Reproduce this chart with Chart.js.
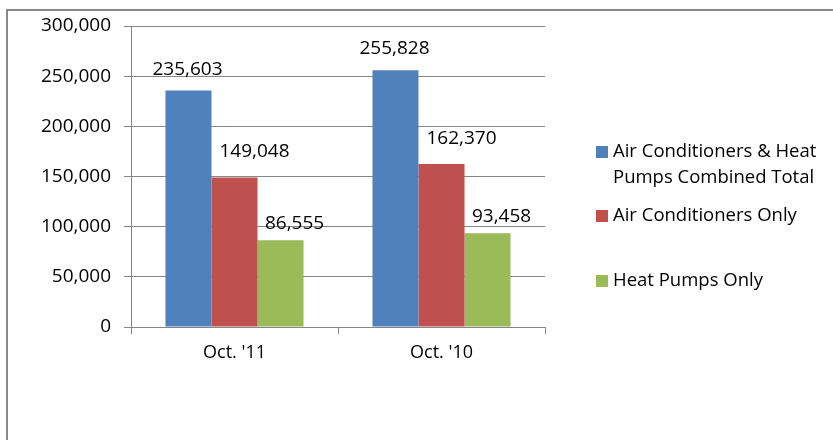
<!DOCTYPE html>
<html>
<head>
<meta charset="utf-8">
<script src="https://cdn.jsdelivr.net/npm/chart.js@4"></script>
<style>
  html, body { margin: 0; padding: 0; background: #fff; }
  #wrap { width: 833px; height: 440px; }
</style>
</head>
<body>
<div id="wrap"><canvas id="chart" width="833" height="440"></canvas></div>
<script>
const categories = ["Oct. '11", "Oct. '10"];
const seriesNames = ['Air Conditioners & Heat Pumps Combined Total', 'Air Conditioners Only', 'Heat Pumps Only'];
const legendLines = [['Air Conditioners & Heat', 'Pumps Combined Total'], ['Air Conditioners Only'], ['Heat Pumps Only']];
const combinedTotal = [235603, 255828];
const acOnly = [149048, 162370];
const heatPumpsOnly = [86555, 93458];
const colors = ['#4F81BD', '#C0504D', '#9BBB59'];

const FONT = '"Open Sans", sans-serif';
const fmt = v => v.toLocaleString('en-US');

// outer frame (only left and top edges show in the crop)
const framePlugin = {
  id: 'frame',
  beforeDraw(chart) {
    const ctx = chart.ctx;
    ctx.save();
    ctx.strokeStyle = '#888888';
    ctx.lineWidth = 2;
    ctx.beginPath();
    ctx.moveTo(7, 440);
    ctx.lineTo(7, 10);
    ctx.lineTo(833, 10);
    ctx.stroke();
    ctx.restore();
  }
};

// value above each bar (labels were nudged by hand in the original)
const labelNudge = [{ dx: -1, dy: 16 }, { dx: 20, dy: 20 }, { dx: 14, dy: 11 }];
const valueLabels = {
  id: 'valueLabels',
  afterDatasetsDraw(chart) {
    const ctx = chart.ctx;
    ctx.save();
    ctx.font = '19px ' + FONT;
    ctx.fillStyle = '#000';
    ctx.textAlign = 'center';
    ctx.textBaseline = 'alphabetic';
    chart.data.datasets.forEach((ds, i) => {
      chart.getDatasetMeta(i).data.forEach((bar, j) => {
        ctx.fillText(fmt(ds.data[j]), bar.x + labelNudge[i].dx, bar.y - labelNudge[i].dy);
      });
    });
    ctx.restore();
  }
};

// legend on the right with wrapped text
const sideLegend = {
  id: 'sideLegend',
  afterDraw(chart) {
    const ctx = chart.ctx;
    const rows = [152, 216, 281];
    ctx.save();
    ctx.font = '18.5px ' + FONT;
    ctx.textBaseline = 'middle';
    chart.data.datasets.forEach((ds, i) => {
      ctx.fillStyle = ds.backgroundColor;
      ctx.fillRect(596, rows[i] - 6, 12, 12);
      ctx.fillStyle = '#000';
      legendLines[i].forEach((line, k) => {
        ctx.fillText(line, 613, rows[i] + k * 26);
      });
    });
    ctx.restore();
  }
};

new Chart(document.getElementById('chart'), {
  type: 'bar',
  data: {
    labels: categories,
    datasets: [
      { label: seriesNames[0], data: combinedTotal, backgroundColor: colors[0] },
      { label: seriesNames[1], data: acOnly, backgroundColor: colors[1] },
      { label: seriesNames[2], data: heatPumpsOnly, backgroundColor: colors[2] }
    ]
  },
  options: {
    responsive: false,
    animation: false,
    categoryPercentage: 0.667,
    barPercentage: 1,
    layout: { padding: { top: 26, right: 288, left: 0, bottom: 0 } },
    plugins: {
      legend: { display: false },
      tooltip: { enabled: false }
    },
    scales: {
      x: {
        grid: { drawOnChartArea: false, color: '#868686', tickLength: 7, offset: true },
        border: { color: '#868686' },
        ticks: { color: '#000', font: { family: FONT, size: 18 }, padding: 8 },
        afterFit(scale) { scale.height = 113; }
      },
      y: {
        min: 0,
        max: 300000,
        grid: { color: '#868686', tickLength: 7 },
        border: { color: '#868686' },
        ticks: {
          stepSize: 50000,
          color: '#000',
          font: { family: FONT, size: 19 },
          padding: 13,
          callback: v => fmt(v)
        },
        afterFit(scale) { scale.width = 131; }
      }
    }
  },
  plugins: [framePlugin, valueLabels, sideLegend]
});
</script>
</body>
</html>
